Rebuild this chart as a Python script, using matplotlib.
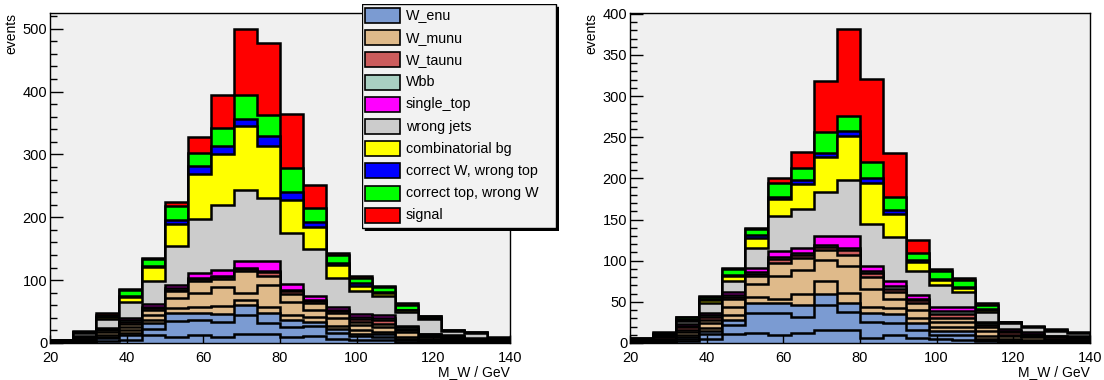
import matplotlib
matplotlib.use("Agg")
import matplotlib.pyplot as plt
from matplotlib.patches import Rectangle
from matplotlib.ticker import MultipleLocator
import numpy as np

plt.rcParams['font.family'] = ['Liberation Sans', 'DejaVu Sans']

bin_edges = [20, 26, 32, 38, 44, 50, 56, 62, 68, 74, 80,
             86, 92, 98, 104, 110, 116, 122, 128, 134, 140]

samples = ["W_enu", "W_munu", "W_taunu", "Wbb", "single_top", "wrong jets",
           "combinatorial bg", "correct W, wrong top", "correct top, wrong W", "signal"]
colors = ["#7b9bd2", "#dfba8a", "#cc5c5c", "#a9d0c2", "#ff00ff", "#cccccc",
          "#ffff00", "#0000ff", "#00ff00", "#ff0000"]

# ---- left pad: W_enu and W_munu are made of several sub-samples ----
left_enu_a = [0.5, 1, 3, 5, 12, 10, 13, 9, 15, 15, 10, 11, 6, 5, 4, 2, 1, 1, 0.5, 0.5]
left_enu_b = [0.5, 1, 5, 7, 10, 25, 24, 25, 30, 17, 15, 16, 10, 6, 6, 2, 2, 1, 1, 1]
left_enu_c = [0.5, 1, 2, 4, 10, 13, 10, 12, 16, 16, 12, 6, 6, 4, 4, 2, 1, 1, 0.5, 0.5]
left_munu_a = [0.3, 1, 3, 4, 5, 8, 10, 13, 7, 10, 8, 8, 5, 5, 4, 3, 2, 1, 1, 0.5]
left_munu_b = [0.4, 2, 4, 6, 8, 16, 22, 30, 11, 35, 20, 12, 12, 8, 8, 8, 3, 3, 1, 1]
left_munu_c = [0.3, 1, 3, 4, 7, 10, 19, 13, 36, 13, 13, 11, 8, 6, 5, 3, 2, 1, 1, 0.5]
left_taunu = [1, 2, 2, 4, 4, 3, 4, 3, 3, 7, 4, 3, 4, 4, 5, 3, 2, 2, 1, 1]
left_wbb = [0.5, 1, 1, 2, 2, 2, 2, 2, 2, 2, 2, 2, 2, 3, 4, 2, 1, 1, 1, 1]
left_single_top = [0, 1, 1, 3, 4, 5, 8, 9, 11, 16, 10, 5, 5, 5, 5, 2, 1, 1, 1, 1]
left_wrong_jets = [1, 5, 14, 26, 37, 62, 86, 104, 112, 100, 81, 75, 45, 37, 30, 23, 23, 7, 8, 1]
left_comb = [0, 1, 3, 8, 22, 35, 71, 80, 102, 82, 53, 36, 21, 8, 5, 2, 1, 0.5, 0, 0]
left_cW_wt = [0, 0.5, 1, 2, 2, 6, 12, 14, 11, 17, 13, 8, 3, 4, 1, 1, 0.5, 0, 0, 0]
left_ct_wW = [0, 0.5, 3, 9, 11, 23, 21, 28, 39, 33, 37, 21, 13, 9, 8, 8, 3, 1, 1, 0.5]
left_signal = [0, 1, 2, 2, 2, 7, 25, 53, 105, 115, 87, 38, 3, 2, 1, 2, 1, 0.5, 0.5, 0.5]

# ---- right pad ----
right_enu_a = [0.4, 1, 3, 5, 11, 12, 10, 12, 16, 16, 6, 10, 6, 5, 4, 2, 1, 1, 0.5, 0.5]
right_enu_b = [0.3, 0.5, 2, 6, 11, 25, 26, 20, 30, 22, 19, 14, 10, 5, 6, 2, 1, 1, 1, 1]
right_enu_c = [0.3, 0.5, 2, 3, 6, 11, 13, 14, 14, 10, 11, 11, 8, 4, 4, 1, 1, 1, 0.5, 0.5]
right_munu_a = [0.3, 1, 3, 4, 6, 8, 4, 14, 15, 13, 8, 8, 6, 5, 5, 4, 2, 1, 1, 0.5]
right_munu_b = [0.4, 1, 3, 6, 10, 16, 28, 29, 26, 32, 22, 10, 10, 6, 6, 6, 3, 3, 1, 1]
right_munu_c = [0.3, 1, 3, 4, 9, 9, 16, 14, 12, 14, 14, 9, 8, 5, 5, 5, 2, 1, 1, 0.5]
right_taunu = [1, 2, 3, 4, 3, 3, 5, 4, 4, 6, 5, 4, 4, 5, 5, 2, 3, 2, 2, 2]
right_wbb = [0.5, 1, 2, 2, 2, 2, 2, 2, 2, 3, 3, 3, 2, 4, 4, 2, 2, 1, 1, 1]
right_single_top = [0.5, 1, 2, 3, 4, 5, 8, 6, 11, 14, 6, 6, 4, 5, 5, 2, 2, 2, 1, 1]
right_wrong_jets = [1, 1, 4, 11, 13, 25, 42, 48, 53, 68, 50, 54, 29, 26, 18, 12, 7, 6, 6, 4]
right_comb = [0, 0.5, 1, 4, 6, 11, 21, 30, 43, 53, 51, 28, 12, 7, 5, 2, 0.5, 0, 0, 0]
right_cW_wt = [0, 0.5, 1, 1, 2, 4, 3, 5, 5, 7, 6, 5, 2, 1, 1, 1, 0.5, 0, 0, 0]
right_ct_wW = [0.5, 1, 2, 3, 7, 7, 17, 15, 26, 18, 19, 16, 8, 9, 8, 5, 0.5, 1, 1, 0.5]
right_signal = [0.5, 1, 1, 1, 1.5, 2, 5, 19, 61, 106, 101, 53, 16, 2.5, 2.6, 2, 0.5, 0.7, 0.6, 0.5]

left_layers = [
    (colors[0], left_enu_a), (colors[0], left_enu_b), (colors[0], left_enu_c),
    (colors[1], left_munu_a), (colors[1], left_munu_b), (colors[1], left_munu_c),
    (colors[2], left_taunu), (colors[3], left_wbb), (colors[4], left_single_top),
    (colors[5], left_wrong_jets), (colors[6], left_comb), (colors[7], left_cW_wt),
    (colors[8], left_ct_wW), (colors[9], left_signal),
]
right_layers = [
    (colors[0], right_enu_a), (colors[0], right_enu_b), (colors[0], right_enu_c),
    (colors[1], right_munu_a), (colors[1], right_munu_b), (colors[1], right_munu_c),
    (colors[2], right_taunu), (colors[3], right_wbb), (colors[4], right_single_top),
    (colors[5], right_wrong_jets), (colors[6], right_comb), (colors[7], right_cW_wt),
    (colors[8], right_ct_wW), (colors[9], right_signal),
]


def draw_stack(ax, layers):
    """THStack-like: draw cumulative sums, biggest first."""
    cum = np.zeros(len(bin_edges) - 1)
    tops = []
    for color, vals in layers:
        cum = cum + np.asarray(vals, dtype=float)
        tops.append((color, cum.copy()))
    for color, top in reversed(tops):
        ax.stairs(top, bin_edges, baseline=0, fill=True,
                  facecolor=color, edgecolor='black', linewidth=1.8)


def style_axes(ax, ymax, major, minor):
    ax.set_facecolor('#f0f0f0')
    ax.set_xlim(20, 140)
    ax.set_ylim(0, ymax)
    ax.xaxis.set_major_locator(MultipleLocator(20))
    ax.yaxis.set_major_locator(MultipleLocator(major))
    ax.yaxis.set_minor_locator(MultipleLocator(minor))
    ax.tick_params(axis='y', which='major', direction='in', length=9.5, width=1,
                   labelsize=10.5, pad=2, right=False)
    ax.tick_params(axis='y', which='minor', direction='in', length=5, width=1, right=False)
    ax.tick_params(axis='x', which='major', direction='in', length=6, width=1,
                   labelsize=10.5, pad=5.5, top=False)
    for s in ax.spines.values():
        s.set_linewidth(1.0)
    ax.set_ylabel('events', loc='top', fontsize=10, labelpad=3)
    ax.set_xlabel('M_W / GeV', loc='right', fontsize=10, labelpad=0)


fig = plt.figure(figsize=(11.04, 3.8), dpi=100)
W, H = 1104, 380
ax1 = fig.add_axes([50 / W, 1 - 343 / H, 460 / W, 330 / H])
ax2 = fig.add_axes([630 / W, 1 - 343 / H, 460 / W, 330 / H])

draw_stack(ax1, left_layers)
draw_stack(ax2, right_layers)
style_axes(ax1, 525, 100, 20)
style_axes(ax2, 401, 50, 10)

# legend box (ROOT TLegend with black shadow)
leg = fig.add_axes([362 / W, 1 - 231 / H, 197 / W, 227 / H])
leg.set_xlim(0, 197)
leg.set_ylim(227, 0)
leg.axis('off')
leg.add_patch(Rectangle((3, 3), 194, 224, facecolor='black', edgecolor='black'))
leg.add_patch(Rectangle((0, 0), 194, 224, facecolor='#f2f2f2', edgecolor='black', linewidth=1))
for i, (name, col) in enumerate(zip(samples, colors)):
    yc = 11.5 + 22.2 * i
    leg.add_patch(Rectangle((3, yc - 7.5), 35, 15, facecolor=col, edgecolor='black', linewidth=1.2))
    leg.text(44, yc, name, fontsize=10.3, va='center', ha='left')

fig.savefig('out.png', dpi=100)
